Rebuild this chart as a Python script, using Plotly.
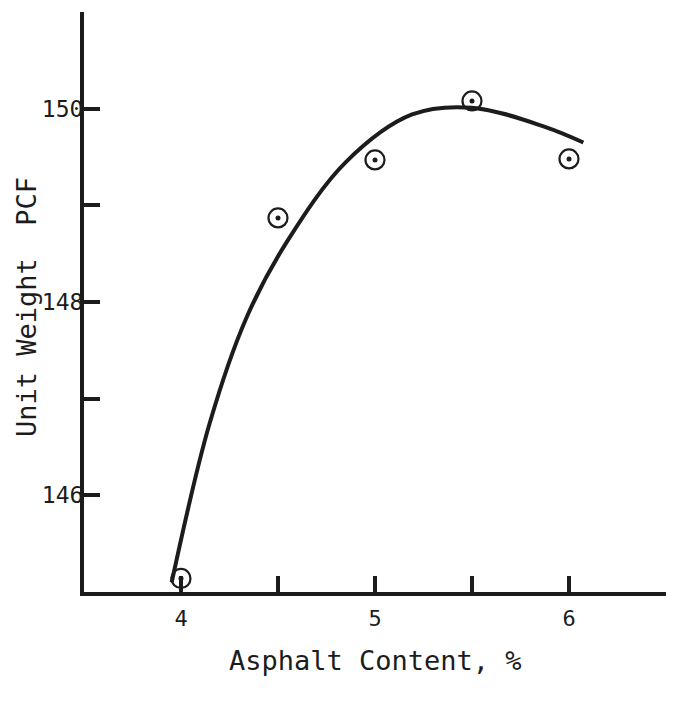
import plotly.graph_objects as go

# Measured unit weight at each asphalt content
asphalt_pct = [4.0, 4.5, 5.0, 5.5, 6.0]
unit_weight = [145.14, 148.87, 149.47, 150.08, 149.48]

# Hand-fitted smooth trend curve
curve_x = [3.952, 4.147, 4.338, 4.548, 4.851, 5.191, 5.499, 5.879, 6.074]
curve_y = [145.10, 146.74, 147.84, 148.63, 149.45, 149.94, 150.01, 149.81, 149.65]

y_ticks = [145, 146, 147, 148, 149, 150, 151]
y_tick_text = ["", "146", "", "148", "", "150", ""]
x_ticks = [4.0, 4.5, 5.0, 5.5, 6.0]
x_tick_text = ["4", "", "5", "", "6"]

ink = "#1c1c1c"
mono = "DejaVu Sans Mono"

fig = go.Figure()
fig.add_trace(go.Scatter(
    x=curve_x, y=curve_y, mode="lines",
    line=dict(color=ink, width=4, shape="spline", smoothing=1.0),
    hoverinfo="skip", showlegend=False,
))
# Open ring around each measurement
fig.add_trace(go.Scatter(
    x=asphalt_pct, y=unit_weight, mode="markers",
    marker=dict(symbol="circle", size=19, color="rgba(255,255,255,0)",
                line=dict(color=ink, width=2.2)),
    showlegend=False,
))
# Centre dot of each measurement
fig.add_trace(go.Scatter(
    x=asphalt_pct, y=unit_weight, mode="markers",
    marker=dict(symbol="circle", size=5, color=ink, line=dict(width=0)),
    hoverinfo="skip", showlegend=False,
))

fig.update_layout(
    width=677, height=705,
    margin=dict(l=84, r=11, t=12, b=113),
    paper_bgcolor="white", plot_bgcolor="white",
    font=dict(family=mono, color=ink),
    xaxis=dict(
        range=[3.5, 6.5], showgrid=False, zeroline=False,
        showline=True, linewidth=4, linecolor=ink,
        ticks="inside", ticklen=16, tickwidth=4, tickcolor=ink,
        tickvals=x_ticks, ticktext=x_tick_text,
        tickfont=dict(family=mono, size=22, color=ink),
        ticklabelstandoff=4,
    ),
    yaxis=dict(
        range=[145, 151], showgrid=False, zeroline=False,
        showline=True, linewidth=4, linecolor=ink,
        ticks="inside", ticklen=16, tickwidth=4, tickcolor=ink,
        tickvals=y_ticks, ticktext=y_tick_text,
        tickfont=dict(family=mono, size=23, color=ink),
        ticklabelstandoff=-8,
    ),
    annotations=[
        dict(text="Asphalt Content, %", xref="paper", yref="paper",
             x=0.5, y=0, yshift=-68, xanchor="center", yanchor="middle",
             showarrow=False, font=dict(family=mono, size=27, color=ink)),
        dict(text="Unit Weight  PCF", xref="paper", yref="paper",
             x=0, y=0.5, xshift=-58, yshift=-5, xanchor="center", yanchor="middle",
             textangle=-90, showarrow=False,
             font=dict(family=mono, size=27, color=ink)),
    ],
)

fig.write_html("out.html")
